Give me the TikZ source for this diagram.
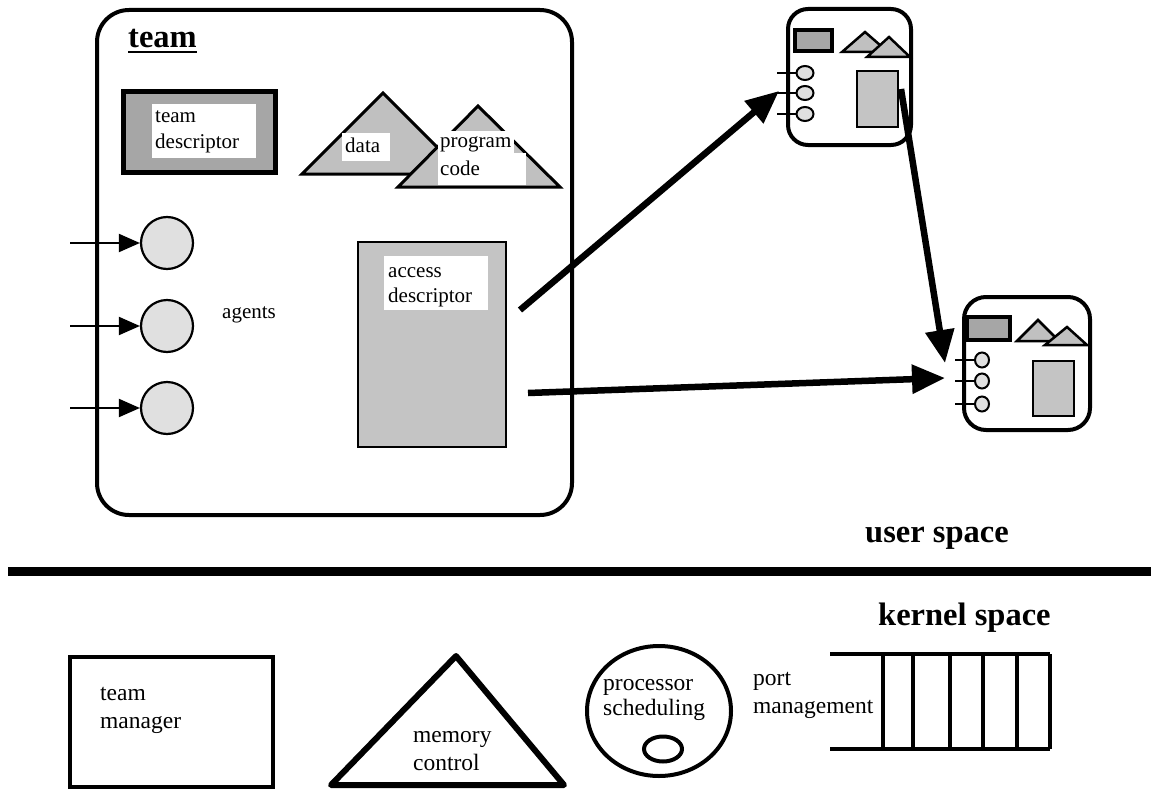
\documentclass[tikz,border=0pt]{standalone}
\usepackage{fontspec}
\setmainfont{Liberation Serif}
\usetikzlibrary{arrows.meta,shapes.geometric}

\definecolor{dkgray}{HTML}{A6A6A6}
\definecolor{mdgray}{HTML}{C0C0C0}
\definecolor{ltgray}{HTML}{C4C4C4}
\definecolor{agentgray}{HTML}{E0E0E0}

\begin{document}
\begin{tikzpicture}[x=1pt,y=-1pt,
  lbl/.style={anchor=base west, inner sep=0pt, font=\fontsize{21}{25}\selectfont},
  lblbig/.style={anchor=base west, inner sep=0pt, font=\fontsize{23.5}{28}\selectfont},
  head/.style={anchor=base west, inner sep=0pt, font=\fontsize{32.5}{38}\selectfont\bfseries},
  whitebox/.style={fill=white, draw=none},
  bigarrow/.style={line width=6.5pt, -{Triangle[length=33pt,width=28pt]}},
  agentarrow/.style={line width=2pt, -{Triangle[length=21pt,width=18pt]}},
  agent/.style={circle, draw, line width=2.2pt, fill=agentgray, minimum size=52pt, inner sep=0pt},
  port/.style={ellipse, draw, line width=2pt, fill=agentgray, inner sep=0pt},
  stub/.style={line width=2.5pt}
]
\useasboundingbox (0,0) rectangle (1151,792);

% ---------- the team ----------
\draw[line width=4pt, rounded corners=32pt] (97,10) rectangle (572,515);
\node[head] (teamhead) at (128,48) {team};
\draw[line width=2pt] ([yshift=-4pt]teamhead.base west) -- ([yshift=-4pt]teamhead.base east);

% team descriptor
\draw[line width=5pt, fill=dkgray] (123,91) rectangle (275,172);
\fill[whitebox] (152,104) rectangle (256,158);
\node[lbl] (td1) at (155,122) {team};
\node[lbl] (td2) at (155,148) {descriptor};

% data and program code
\draw[line width=3pt, fill=mdgray] (302,174) -- (383,93) -- (464,174) -- cycle;
\fill[whitebox] (342,133) rectangle (390,161);
\node[lbl] (dat) at (345,152) {data};
\draw[line width=3pt, fill=mdgray] (398,187) -- (478,106) -- (560,187) -- cycle;
\fill[whitebox] (438,131) rectangle (514,154);
\fill[whitebox] (438,153) rectangle (526,185);
\node[lbl] (pc1) at (440,147) {program};
\node[lbl] (pc2) at (440,175) {code};

% agents
\node[agent] (ag1) at (167,243) {};
\node[agent] (ag2) at (167,326) {};
\node[agent] (ag3) at (167,408) {};
\coordinate (in1) at (70,243);
\coordinate (in2) at (70,326);
\coordinate (in3) at (70,408);
\draw[agentarrow] (in1) -- (ag1.west);
\draw[agentarrow] (in2) -- (ag2.west);
\draw[agentarrow] (in3) -- (ag3.west);
\node[lbl] (agl) at (222,318) {agents};

% access descriptor
\draw[line width=2pt, fill=ltgray] (358,242) rectangle (506,447);
\fill[whitebox] (384,256) rectangle (488,310);
\node[lbl] (ad1) at (388,277) {access};
\node[lbl] (ad2) at (388,302) {descriptor};

% ---------- first small team ----------
\draw[line width=4pt, rounded corners=20pt] (788,9) rectangle (911,145);
\draw[line width=4pt, fill=dkgray] (795,30) rectangle (832,51);
\draw[line width=2.5pt, fill=mdgray] (842,52) -- (865,32) -- (888,52) -- cycle;
\draw[line width=2.5pt, fill=mdgray] (867,57) -- (889,37) -- (910,57) -- cycle;
\node[port, minimum width=17pt, minimum height=14pt] (p11) at (805,73) {};
\node[port, minimum width=17pt, minimum height=14pt] (p12) at (805,93) {};
\node[port, minimum width=17pt, minimum height=14pt] (p13) at (805,114) {};
\coordinate (s11) at (777,73);
\coordinate (s12) at (777,93);
\coordinate (s13) at (777,114);
\draw[stub] (s11) -- (p11.west);
\draw[stub] (s12) -- (p12.west);
\draw[stub] (s13) -- (p13.west);
\draw[line width=2.5pt, fill=ltgray] (857,71) rectangle (898,127);

% ---------- second small team ----------
\draw[line width=4pt, rounded corners=22pt] (964,297) rectangle (1090,430);
\draw[line width=4pt, fill=dkgray] (967,317) rectangle (1010,340);
\draw[line width=2.5pt, fill=mdgray] (1017,341) -- (1038,320) -- (1059,341) -- cycle;
\draw[line width=2.5pt, fill=mdgray] (1045,345) -- (1067,327) -- (1087,345) -- cycle;
\node[port, minimum width=14pt, minimum height=15pt] (p21) at (982,360) {};
\node[port, minimum width=14pt, minimum height=15pt] (p22) at (982,381) {};
\node[port, minimum width=14pt, minimum height=15pt] (p23) at (982,404) {};
\coordinate (s21) at (955,360);
\coordinate (s22) at (955,381);
\coordinate (s23) at (955,404);
\draw[stub] (s21) -- (p21.west);
\draw[stub] (s22) -- (p22.west);
\draw[stub] (s23) -- (p23.west);
\draw[line width=2.5pt, fill=ltgray] (1033,361) rectangle (1074,416);

% ---------- capability links ----------
\coordinate (ad1out) at (520,310);
\coordinate (ad2out) at (528,393);
\coordinate (st1in) at (779,91);
\coordinate (st1out) at (901,89);
\coordinate (st2inA) at (945,363);
\coordinate (st2inB) at (945,378);
\draw[bigarrow] (ad1out) -- (st1in);
\draw[bigarrow] (ad2out) -- (st2inB);
\draw[bigarrow] (st1out) -- (st2inA);

% ---------- user / kernel boundary ----------
\node[head] (us) at (865,542) {user space};
\coordinate (sepL) at (8,571);
\coordinate (sepR) at (1151,571);
\draw[line width=9pt] (sepL) -- (sepR);
\node[head] (ks) at (878,625) {kernel space};

% ---------- kernel services ----------
\draw[line width=4pt] (70,657) rectangle (273,787);
\node[lblbig] (tm1) at (100,700) {team};
\node[lblbig] (tm2) at (100,728) {manager};

\draw[line width=6pt, line join=round] (331,785) -- (456,656) -- (564,785) -- cycle;
\node[lblbig] (mc1) at (413,742) {memory};
\node[lblbig] (mc2) at (413,770) {control};

\node[ellipse, draw, line width=4pt, minimum width=144pt, minimum height=130pt, inner sep=0pt] (ps) at (659,711) {};
\node[ellipse, draw, line width=4pt, minimum width=38pt, minimum height=25pt, inner sep=0pt] (psq) at (663,749) {};
\node[lblbig] (ps1) at (603,690) {processor};
\node[lblbig] (ps2) at (603,715) {scheduling};

\node[lblbig] (pm1) at (753,685) {port};
\node[lblbig] (pm2) at (753,713) {management};
\draw[line width=4pt] (830,654) -- (1050,654);
\draw[line width=4pt] (830,749) -- (1050,749);
\foreach \qx in {883,913,950,983,1017,1050}
  \draw[line width=4pt] (\qx,654) -- (\qx,749);
\end{tikzpicture}
\end{document}
